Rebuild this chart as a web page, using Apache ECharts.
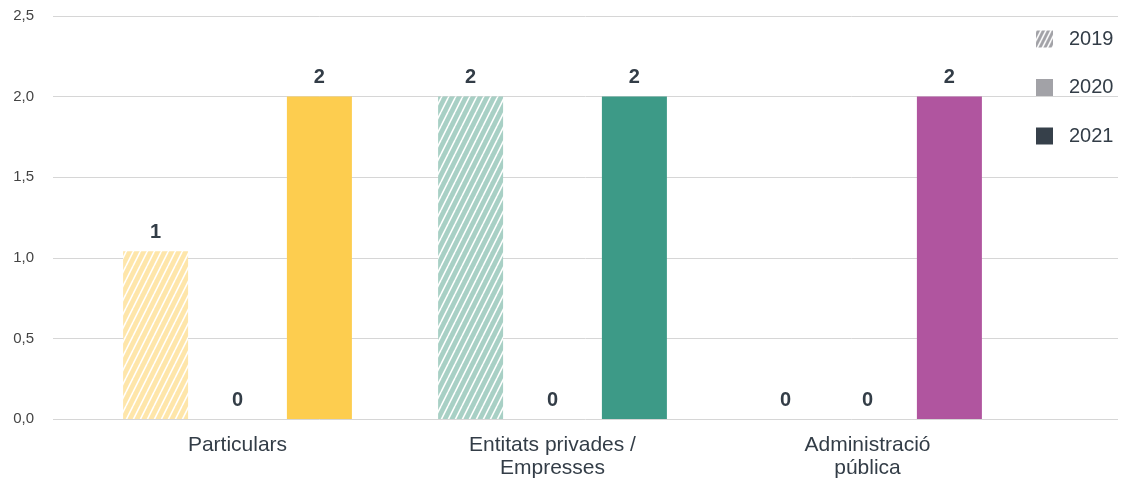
<!DOCTYPE html>
<html>
<head>
<meta charset="utf-8">
<script src="https://cdn.jsdelivr.net/npm/echarts@6/dist/echarts.min.js"></script>
<style>html,body{margin:0;padding:0;background:#fff}#c{width:1138px;height:482px}</style>
</head>
<body>
<div id="c"></div>
<script>
const categories = ['Particulars', 'Entitats privades /\nEmpresses', 'Administració\npública'];
const years = ['2019', '2020', '2021'];
const values2019 = [1.04, 2, 0];
const values2020 = [0, 0, 0];
const values2021 = [2, 2, 2];
const yTicks = [0, 0.5, 1, 1.5, 2, 2.5];

const fullColors = ['#FDCD4F', '#3D9A87', '#B0559F'];
const lightColors = ['#FEE6AA', '#A8D0C5', '#DDB0D3'];
const legendColors = ['#A2A2A7', '#A2A2A7', '#36404A'];

function hatch(bg, w, lw) {
  const h = w * 2;
  const c = document.createElement('canvas');
  c.width = w; c.height = h;
  const g = c.getContext('2d');
  g.fillStyle = bg; g.fillRect(0, 0, w, h);
  g.strokeStyle = '#ffffff'; g.lineWidth = lw;
  for (const dx of [-w, 0, w]) {
    g.beginPath(); g.moveTo(dx, h); g.lineTo(dx + w, 0); g.stroke();
  }
  return { image: c, repeat: 'repeat' };
}

const font = '"Helvetica Neue", "Liberation Sans", Arial, Helvetica, sans-serif';
const labelCfg = {
  show: true, position: 'top', distance: 9,
  fontFamily: font, fontSize: 20, fontWeight: 'bold', color: '#333D47',
  formatter: p => String(Math.round(p.value))
};

const chart = echarts.init(document.getElementById('c'));
chart.setOption({
  animation: false,
  textStyle: { fontFamily: font },
  grid: [
    { left: 53, right: 20, top: 16, bottom: 63 },
    { left: 80, right: 113, top: 16, bottom: 63 }
  ],
  legend: {
    orient: 'vertical', left: 1031, top: 24,
    itemWidth: 17, itemHeight: 17, itemGap: 28.5,
    icon: 'rect',
    textStyle: { fontFamily: font, fontSize: 20, lineHeight: 20, color: '#333D47', padding: [0, 0, 0, 11] },
    data: [
      { name: years[0], itemStyle: { color: hatch(legendColors[0], 5, 1.6) } },
      { name: years[1] },
      { name: years[2] }
    ]
  },
  xAxis: [
    { gridIndex: 0, type: 'value', min: 0, max: 1, show: false },
    {
      gridIndex: 1, type: 'category', data: categories,
      axisLine: { show: false }, axisTick: { show: false },
      axisLabel: { margin: 15, fontFamily: font, fontSize: 21, color: '#333D47', lineHeight: 23 }
    }
  ],
  yAxis: [
    {
      gridIndex: 0, type: 'value', min: 0, max: 2.5, interval: 0.5,
      axisLine: { show: false }, axisTick: { show: false },
      splitLine: { lineStyle: { color: '#D6D6D6', width: 1 } },
      axisLabel: {
        margin: 19, fontFamily: font, fontSize: 15, color: '#444',
        formatter: v => yTicks.includes(v) ? v.toFixed(1).replace('.', ',') : ''
      }
    },
    { gridIndex: 1, type: 'value', min: 0, max: 2.5, interval: 0.5, show: false, splitLine: { show: false } }
  ],
  series: [
    {
      name: years[0], type: 'bar', xAxisIndex: 1, yAxisIndex: 1,
      barWidth: 65, barGap: '26%',
      itemStyle: { color: legendColors[0] },
      label: labelCfg,
      data: values2019.map((v, i) => ({ value: v, itemStyle: { color: hatch(lightColors[i], 7, 1.6) } }))
    },
    {
      name: years[1], type: 'bar', xAxisIndex: 1, yAxisIndex: 1,
      barWidth: 65, barGap: '26%',
      itemStyle: { color: legendColors[1] },
      label: labelCfg,
      data: values2020.map((v, i) => ({ value: v, itemStyle: { color: fullColors[i] } }))
    },
    {
      name: years[2], type: 'bar', xAxisIndex: 1, yAxisIndex: 1,
      barWidth: 65, barGap: '26%',
      itemStyle: { color: legendColors[2] },
      label: labelCfg,
      data: values2021.map((v, i) => ({ value: v, itemStyle: { color: fullColors[i] } }))
    }
  ]
});
</script>
</body>
</html>
